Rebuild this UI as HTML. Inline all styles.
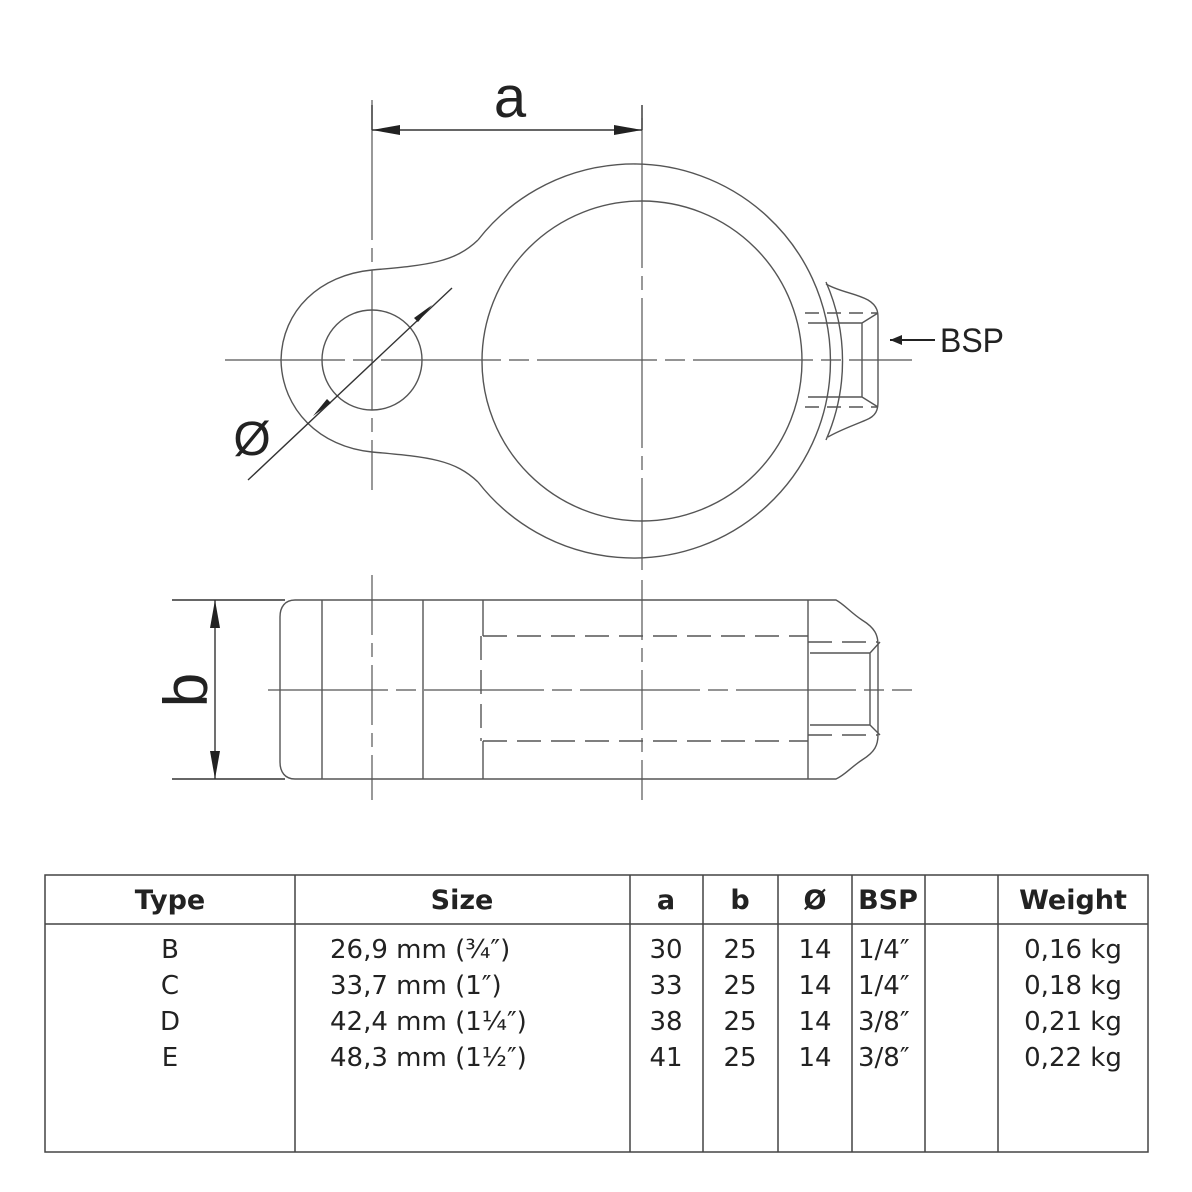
<!DOCTYPE html>
<html><head><meta charset="utf-8"><style>
html,body{margin:0;padding:0;background:#fff;}
svg{display:block}
</style></head><body>
<svg width="1192" height="1192" viewBox="0 0 1192 1192" xmlns="http://www.w3.org/2000/svg">
<g fill="none" stroke="#555" stroke-width="1.4">
<!-- top view -->
<path d="M478,240 C455,262 430,265 372,270 C320,275 282,310 281,360 C282,410 320,447 372,452 C430,457 455,460 478,482"/>
<path d="M478,240 A197,197 0 1,1 478,482"/>
<path d="M826,282 A197,197 0 0,1 826,440"/>
<ellipse cx="642" cy="361" rx="160" ry="160"/>
<circle cx="372" cy="360" r="50"/>
<path d="M826,284 C840,292 855,293 868,300 C878,306 878,313 878,318 L878,402 C878,410 876,416 866,420 C852,426 840,430 828,437"/>
<path d="M808,323 L862,323 L862,397 L808,397 M862,323 L878,313 M862,397 L878,407"/>
<path d="M805,313 L878,313 M805,407 L878,407" stroke-dasharray="14,8"/>
<!-- center lines top -->
<path d="M642,118 L642,570" stroke-width="1.2" stroke-dasharray="150,8,14,8"/>
<path d="M372,100 L372,490" stroke-width="1.2" stroke-dasharray="140,8,14,8"/>
<path d="M225,360 L912,360" stroke-width="1.2" stroke-dasharray="120,8,20,8"/>
<!-- side view -->
<path d="M295,600 L808,600 L836,600 C845,605 850,612 862,620 C875,628 878,635 878,645 L878,735 C878,745 875,752 862,760 C850,768 845,775 836,779 L295,779 C285,779 280,772 280,762 L280,617 C280,607 285,600 295,600 Z"/>
<path d="M322,600 L322,779 M423,600 L423,779 M483,600 L483,636 M483,741 L483,779 M808,600 L808,779"/>
<path d="M483,636 L808,636 M483,741 L808,741 M481,636 L481,741 M808,642 L878,642 M808,735 L878,735" stroke-dasharray="24,10"/>
<path d="M810,653 L870,653 L870,725 L810,725 M870,653 L880,642 M870,725 L880,735"/>
<path d="M372,575 L372,800 M642,580 L642,800" stroke-width="1.2" stroke-dasharray="60,8,14,8"/>
<path d="M268,690 L912,690" stroke-width="1.2" stroke-dasharray="120,8,20,8"/>
<!-- dimensions -->
<path d="M372,105 L372,130 M642,105 L642,130 M372,130 L642,130" stroke="#333"/>
<path d="M172,600 L285,600 M172,779 L285,779 M215,600 L215,779" stroke="#333"/>
<path d="M248,480 L452,288" stroke="#333"/>
<path d="M890,340 L935,340" stroke="#222" stroke-width="2"/>
</g>
<g fill="#222">
<path d="M372,130 L400,125 L400,135 Z"/><path d="M642,130 L614,125 L614,135 Z"/>
<path d="M215,600 L210,628 L220,628 Z"/><path d="M215,779 L210,751 L220,751 Z"/>
<path d="M432,305 L418,322 L414,318 Z"/><path d="M313,416 L327,399 L331,403 Z"/>
<path d="M890,340 L902,335 L902,345 Z"/>
</g>
<g font-family="Liberation Sans, sans-serif" fill="#222">
<text x="510" y="117" font-size="58" text-anchor="middle">a</text>
<text x="252" y="455" font-size="48" text-anchor="middle">Ø</text>
<text x="940" y="352" font-size="34" textLength="64" lengthAdjust="spacingAndGlyphs">BSP</text>
<text transform="translate(207,690) rotate(-90)" font-size="62" text-anchor="middle">b</text>
</g>
<!-- table -->
<g stroke="#444" stroke-width="1.5" fill="none">
<rect x="45" y="875" width="1103" height="277"/>
<path d="M45,924 L1148,924 M295,875 L295,1152 M630,875 L630,1152 M703,875 L703,1152 M778,875 L778,1152 M852,875 L852,1152 M925,875 L925,1152 M998,875 L998,1152"/>
</g>
<g font-family="DejaVu Sans, sans-serif" fill="#222" font-size="26">
<g font-weight="bold" font-size="27">
<text x="170" y="909" text-anchor="middle">Type</text>
<text x="462" y="909" text-anchor="middle">Size</text>
<text x="666" y="909" text-anchor="middle">a</text>
<text x="740" y="909" text-anchor="middle">b</text>
<text x="815" y="909" text-anchor="middle">Ø</text>
<text x="888" y="909" text-anchor="middle">BSP</text>
<text x="1073" y="909" text-anchor="middle">Weight</text>
</g>
<g text-anchor="middle">
<text x="170" y="958">B</text><text x="170" y="994">C</text><text x="170" y="1030">D</text><text x="170" y="1066">E</text>
<text x="666" y="958">30</text><text x="666" y="994">33</text><text x="666" y="1030">38</text><text x="666" y="1066">41</text>
<text x="740" y="958">25</text><text x="740" y="994">25</text><text x="740" y="1030">25</text><text x="740" y="1066">25</text>
<text x="815" y="958">14</text><text x="815" y="994">14</text><text x="815" y="1030">14</text><text x="815" y="1066">14</text>
<text x="1073" y="958">0,16 kg</text><text x="1073" y="994">0,18 kg</text><text x="1073" y="1030">0,21 kg</text><text x="1073" y="1066">0,22 kg</text>
</g>
<g>
<text x="330" y="958">26,9 mm (¾″)</text><text x="330" y="994">33,7 mm (1″)</text><text x="330" y="1030">42,4 mm (1¼″)</text><text x="330" y="1066">48,3 mm (1½″)</text>
<text x="858" y="958">1/4″</text><text x="858" y="994">1/4″</text><text x="858" y="1030">3/8″</text><text x="858" y="1066">3/8″</text>
</g>
</g>
</svg>
</body></html>
